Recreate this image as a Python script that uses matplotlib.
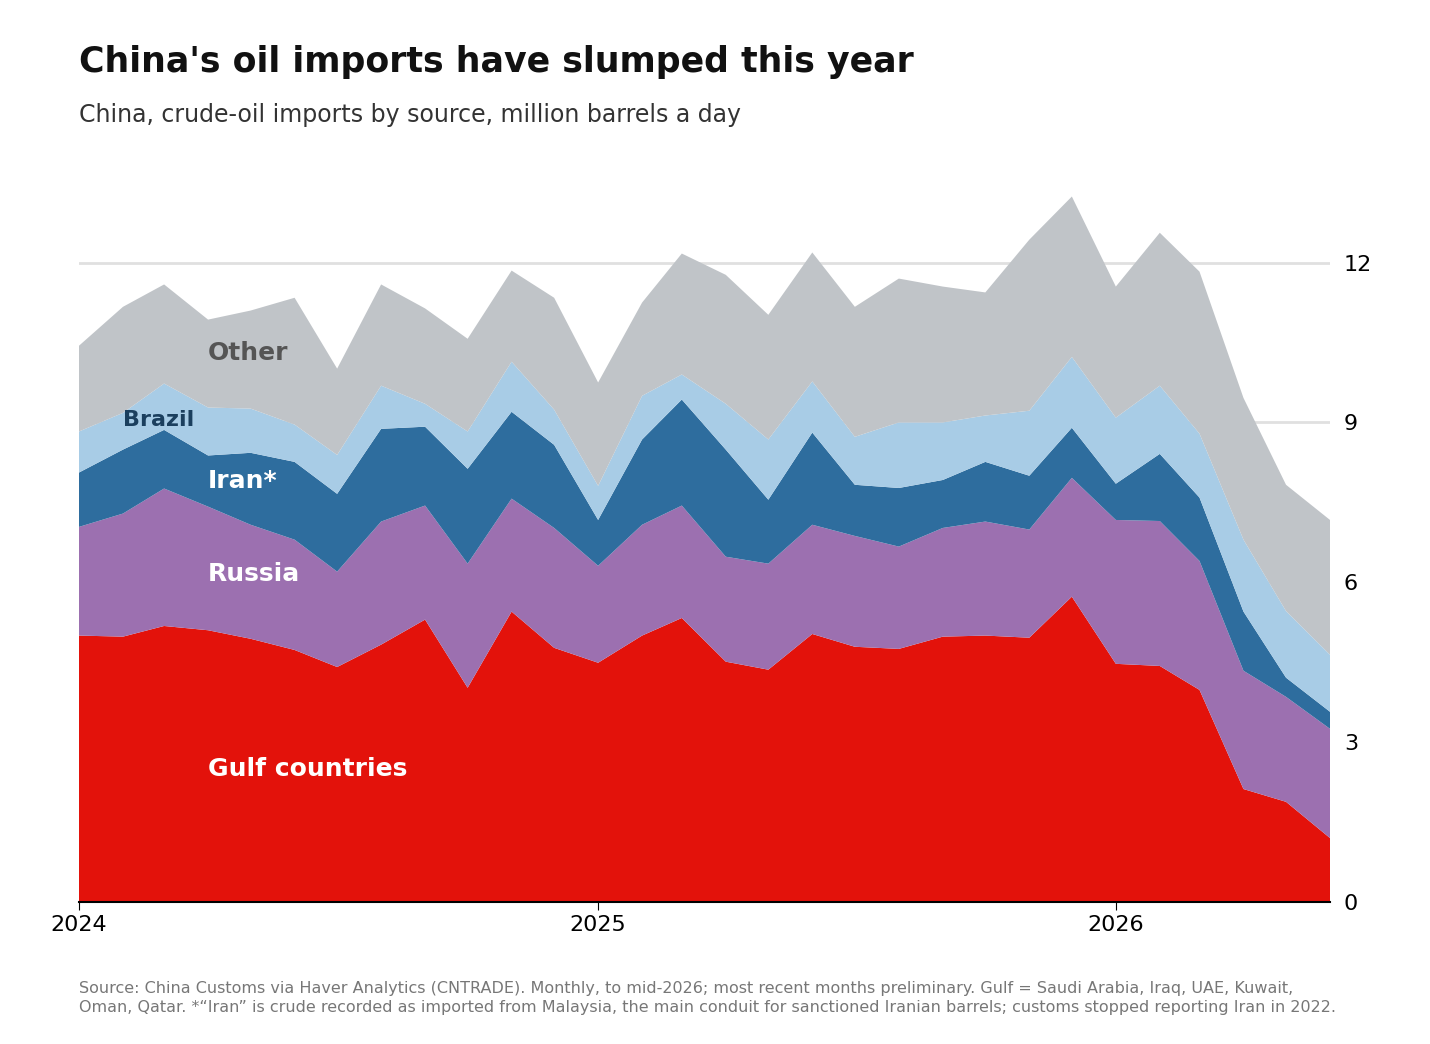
import matplotlib
matplotlib.use("Agg")
import matplotlib.pyplot as plt
import numpy as np
import pandas as pd

months = pd.date_range("2024-01-01", periods=30, freq="MS")
gulf = [5.00,4.98,5.18,5.10,4.94,4.73,4.41,4.83,5.30,4.02,5.45,4.77,4.49,5.00,5.33,4.51,4.36,5.03,4.79,4.75,4.98,5.00,4.96,5.73,4.47,4.43,3.98,2.12,1.88,1.20]
russia = [2.04,2.31,2.58,2.32,2.14,2.07,1.79,2.31,2.14,2.33,2.12,2.25,1.82,2.08,2.11,1.97,1.99,2.05,2.08,1.92,2.04,2.14,2.03,2.23,2.70,2.72,2.42,2.22,1.97,2.05]
iran = [1.02,1.20,1.10,0.96,1.35,1.46,1.46,1.74,1.48,1.78,1.63,1.56,0.86,1.60,1.99,2.01,1.20,1.73,0.96,1.10,0.90,1.12,1.01,0.94,0.68,1.26,1.19,1.11,0.36,0.32]
brazil = [0.77,0.69,0.87,0.90,0.83,0.70,0.73,0.81,0.43,0.70,0.94,0.66,0.64,0.82,0.47,0.86,1.13,0.96,0.90,1.23,1.08,0.87,1.22,1.33,1.24,1.28,1.20,1.35,1.25,1.07]
other = [1.61,1.99,1.86,1.65,1.84,2.38,1.62,1.90,1.79,1.74,1.71,2.10,1.94,1.75,2.27,2.42,2.34,2.42,2.44,2.70,2.55,2.31,3.21,3.01,2.46,2.87,3.04,2.66,2.37,2.53]
labels = ["Gulf countries", "Russia", "Iran*", "Brazil", "Other"]
colors = ["#E3120B", "#9C70B0", "#2E6D9E", "#A8CCE6", "#C0C4C8"]
yticks = [0, 3, 6, 9, 12]

fig = plt.figure(figsize=(14.3, 10.44), dpi=100)
ax = fig.add_axes([79/1430, 1-902/1044, (1330-79)/1430, (902-180)/1044])
ax.stackplot(months, gulf, russia, iran, brazil, other, colors=colors, linewidth=0, zorder=2)
ax.set_xlim(months[0], months[-1])
ax.set_ylim(0, 13.55)
ax.yaxis.tick_right()
ax.set_yticks(yticks)
ax.tick_params(axis="y", length=0, labelsize=16, pad=10)
ax.tick_params(axis="x", length=6, labelsize=16)
ax.set_xticks(pd.to_datetime(["2024-01-01", "2025-01-01", "2026-01-01"]))
ax.set_xticklabels(["2024", "2025", "2026"])
ax.grid(axis="y", color="#E0E0E0", linewidth=2, zorder=1)
for s in ["top", "right", "left"]:
    ax.spines[s].set_visible(False)
ax.spines["bottom"].set_linewidth(1.5)

xl = pd.Timestamp("2024-04-01")
ax.text(xl, 2.5, labels[0], color="white", fontsize=18, fontweight="bold", va="center")
ax.text(xl, 6.15, labels[1], color="white", fontsize=18, fontweight="bold", va="center")
ax.text(xl, 7.9, labels[2], color="white", fontsize=18, fontweight="bold", va="center")
ax.text(pd.Timestamp("2024-02-01"), 9.05, labels[3], color="#1B3F5E", fontsize=16, fontweight="bold", va="center")
ax.text(xl, 10.3, labels[4], color="#555555", fontsize=18, fontweight="bold", va="center")

fig.text(79/1430, 1-62/1044, "China's oil imports have slumped this year", fontsize=25, fontweight="bold", color="#111111", va="center")
fig.text(79/1430, 1-115/1044, "China, crude-oil imports by source, million barrels a day", fontsize=17, color="#333333", va="center")
fig.text(79/1430, 1-998/1044,
         "Source: China Customs via Haver Analytics (CNTRADE). Monthly, to mid-2026; most recent months preliminary. Gulf = Saudi Arabia, Iraq, UAE, Kuwait,\n"
         "Oman, Qatar. *\u201cIran\u201d is crude recorded as imported from Malaysia, the main conduit for sanctioned Iranian barrels; customs stopped reporting Iran in 2022.",
         fontsize=11.5, color="#777777", va="center", linespacing=1.3)
fig.savefig("out.png", dpi=100)
